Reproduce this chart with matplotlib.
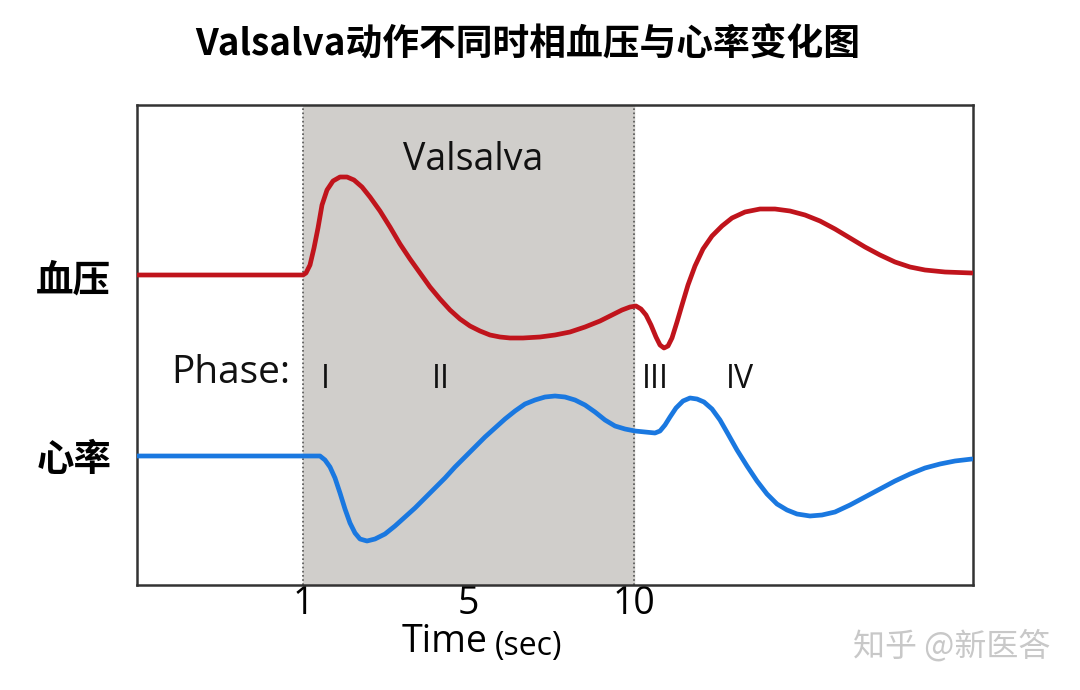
import matplotlib
matplotlib.use('Agg')
import matplotlib.pyplot as plt

plt.rcParams['font.family'] = ['Open Sans', 'Noto Sans CJK SC', 'DejaVu Sans']

# Curves (arbitrary units, x spans 0..836, y spans 0..480)
bp_x = [0, 166, 169, 173, 177, 181, 185, 190, 196, 203, 210, 217, 225, 233, 243, 253,
        263, 273, 283, 293, 303, 313, 323, 333, 343, 353, 363, 373, 386, 403, 418, 433,
        448, 463, 475, 485, 493, 499, 504, 509, 514, 519, 523, 527, 531, 535, 540, 545,
        551, 558, 566, 575, 585, 595, 608, 623, 638, 653, 668, 683, 698, 713, 728, 743,
        758, 773, 788, 808, 835]
bp_y = [310, 310, 312, 320, 337, 357, 380, 395, 404, 408, 408, 405, 398, 388, 374, 358,
        341, 326, 312, 298, 286, 275, 266, 259, 254, 250, 248, 247, 247, 248, 250, 253,
        258, 264, 270, 275, 278, 279, 276, 270, 260, 248, 240, 237, 239, 247, 263, 280,
        300, 319, 336, 349, 359, 367, 373, 376, 376, 374, 370, 364, 356, 347, 338, 330,
        323, 318, 315, 313, 312]

hr_x = [0, 183, 188, 193, 198, 203, 208, 213, 218, 223, 230, 238, 248, 258, 268, 278,
        288, 298, 308, 318, 328, 338, 348, 358, 368, 378, 388, 398, 408, 418, 428, 438,
        448, 458, 468, 478, 488, 498, 508, 518, 523, 528, 533, 539, 546, 553, 560, 567,
        575, 583, 591, 600, 610, 620, 630, 640, 650, 660, 673, 685, 698, 713, 728, 743,
        758, 773, 788, 803, 818, 835]
hr_y = [129, 129, 125, 118, 107, 92, 76, 62, 52, 46, 44, 46, 51, 59, 68, 77,
        87, 97, 107, 118, 128, 138, 148, 157, 166, 174, 181, 185, 188, 189, 188, 185,
        180, 173, 165, 159, 156, 154, 153, 152, 154, 160, 168, 177, 184, 187, 186, 183,
        176, 165, 151, 135, 119, 104, 91, 81, 75, 71, 69, 70, 73, 80, 88, 96,
        104, 111, 117, 121, 124, 126]

tick_pos = [166, 331, 497]
tick_labels = ['1', '5', '10']
valsalva_span = (166, 497)
phase_labels = ['I', 'II', 'III', 'IV']
phase_pos = [188, 304, 518, 603]

W, H = 1080, 690
fig = plt.figure(figsize=(10.8, 6.9), dpi=100)
ax = fig.add_axes([137 / W, (H - 585) / H, 836 / W, 480 / H])
ax.set_xlim(0, 836)
ax.set_ylim(0, 480)

ax.axvspan(*valsalva_span, color='#d0cecb', zorder=0)
for xv in valsalva_span:
    ax.axvline(xv, color='#555555', lw=1.2, ls=(0, (1, 1.5)), zorder=1)

ax.plot(bp_x, bp_y, color='#c0141c', lw=3.4, solid_capstyle='round',
        solid_joinstyle='round', zorder=3)
ax.plot(hr_x, hr_y, color='#1a78e0', lw=3.4, solid_capstyle='round',
        solid_joinstyle='round', zorder=3)

ax.set_xticks(tick_pos)
ax.set_xticklabels(tick_labels, fontsize=27)
ax.tick_params(axis='x', length=0, pad=0)
ax.set_yticks([])
for s in ax.spines.values():
    s.set_color('#333333')
    s.set_linewidth(1.8)

ax.text(336, 425, 'Valsalva', fontsize=27, ha='center', va='center', color='#111111')
ax.text(94, 212, 'Phase:', fontsize=28, ha='center', va='center', color='#111111')
for lab, xp in zip(phase_labels, phase_pos):
    ax.text(xp, 206, lab, fontsize=23, ha='center', va='center', color='#111111')

fig.text(528 / W, 1 - 45 / H, 'Valsalva动作不同时相血压与心率变化图', fontsize=26.5,
         fontweight='bold', ha='center', va='center',
         family=['Noto Sans CJK SC', 'DejaVu Sans'])
fig.text(73 / W, 1 - 280 / H, '血压', fontsize=27, fontweight='bold', ha='center', va='center',
         family=['Noto Sans CJK SC'])
fig.text(74 / W, 1 - 460 / H, '心率', fontsize=27, fontweight='bold', ha='center', va='center',
         family=['Noto Sans CJK SC'])
fig.text(445 / W, 1 - 642 / H, 'Time', fontsize=27, ha='center', va='center')
fig.text(528 / W, 1 - 646 / H, '(sec)', fontsize=23, ha='center', va='center')
fig.text(952 / W, 1 - 646 / H, '知乎 @新医答', fontsize=23, ha='center', va='center',
         color='#c8c8c8', family=['Noto Sans CJK SC', 'DejaVu Sans'])

fig.savefig('out.png', dpi=100, facecolor='white')
